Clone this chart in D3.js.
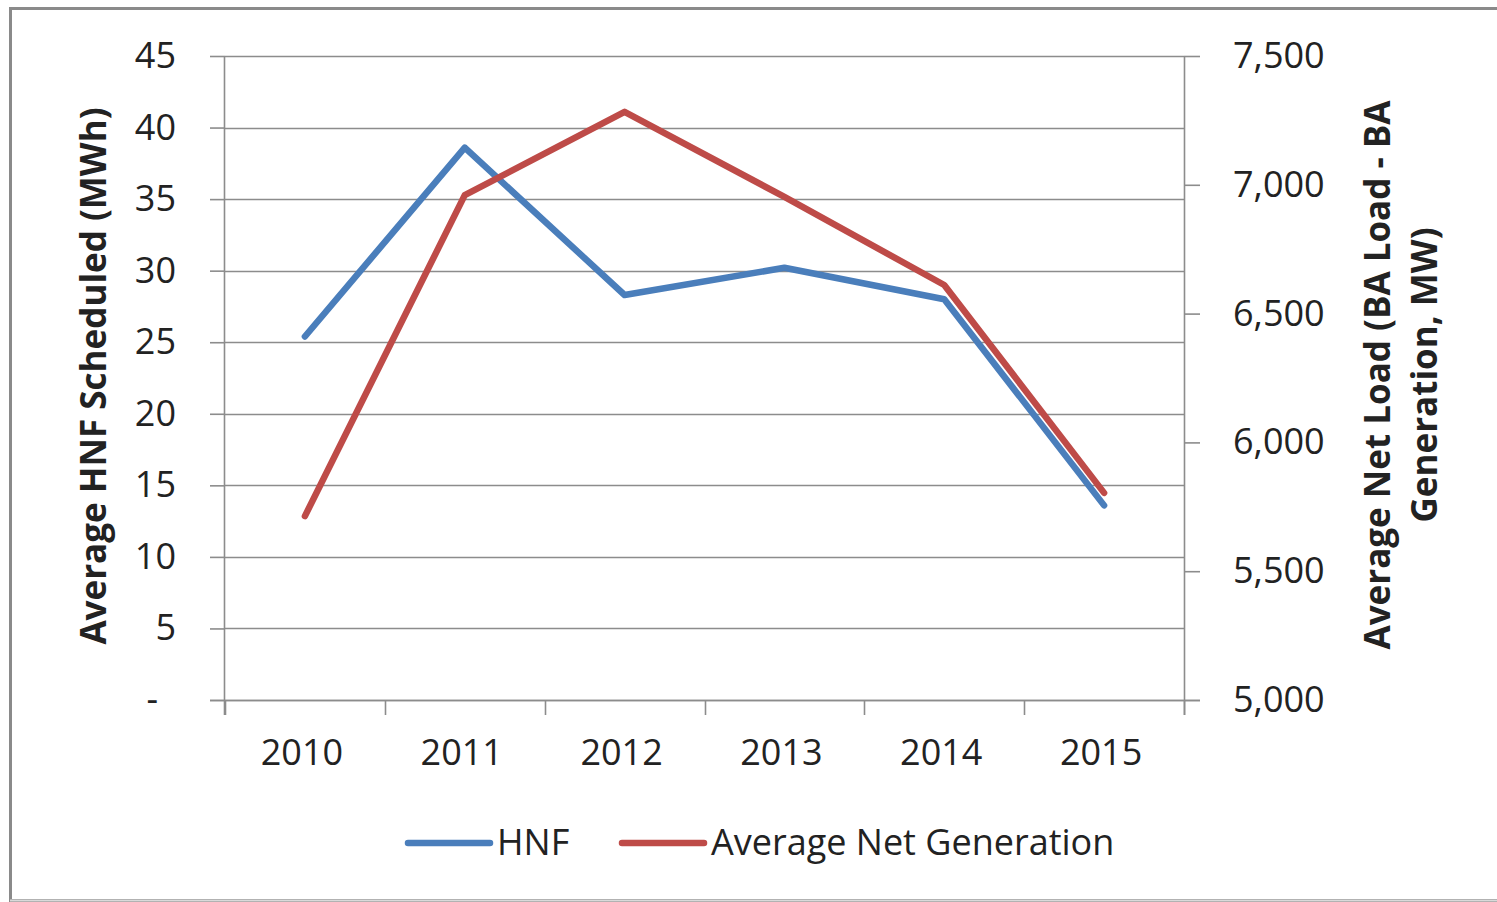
<!DOCTYPE html>
<html>
<head>
<meta charset="utf-8">
<script src="https://cdn.jsdelivr.net/npm/d3@7"></script>
<style>
	body { margin: 0; background: #fff; }
	text { font-family: "Open Sans", sans-serif; fill: #222; }
</style>
</head>
<body>
<div id="containerChart"></div>
<script>
// data
var years = ["2010", "2011", "2012", "2013", "2014", "2015"];
var hnf = [25.4, 38.6, 28.3, 30.2, 28.0, 13.6];
var netGen = [5714, 6960, 7283, 6953, 6611, 5804];
var leftTicks = [0, 5, 10, 15, 20, 25, 30, 35, 40, 45];
var rightTicks = [5000, 5500, 6000, 6500, 7000, 7500];
var seriesNames = ["HNF", "Average Net Generation"];
var seriesColors = ["#4A7EBB", "#BE4B48"];

var width = 1497, height = 902;
var plot = { left: 225, right: 1184, top: 56, bottom: 700 };

var svg = d3.select("#containerChart")
	.append("svg")
	.attr("width", width)
	.attr("height", height);

// outer frame
svg.append("rect")
	.attr("x", 10.5).attr("y", 8.5)
	.attr("width", width + 20).attr("height", 892)
	.attr("fill", "#fff")
	.attr("stroke", "#8a8a8a")
	.attr("stroke-width", 3);
svg.append("line")
	.attr("x1", 10).attr("x2", width)
	.attr("y1", 900.5).attr("y2", 900.5)
	.attr("stroke", "#d9d9d9").attr("stroke-width", 2);

// scales
var x = d3.scaleBand().domain(years).range([plot.left, plot.right]);
var yL = d3.scaleLinear().domain([0, 45]).range([plot.bottom, plot.top]);
var yR = d3.scaleLinear().domain([5000, 7500]).range([plot.bottom, plot.top]);

// horizontal gridlines
svg.append("g")
	.selectAll("line")
	.data(leftTicks)
	.enter().append("line")
	.attr("x1", plot.left).attr("x2", plot.right)
	.attr("y1", function (d) { return Math.round(yL(d)) + 0.5; })
	.attr("y2", function (d) { return Math.round(yL(d)) + 0.5; })
	.attr("stroke", "#8c8c8c")
	.attr("stroke-width", 1.6);

// left axis
var leftAxis = svg.append("g")
	.attr("transform", "translate(" + plot.left + ",0)")
	.call(d3.axisLeft(yL).tickValues(leftTicks).tickSize(15).tickPadding(34)
		.tickFormat(function (d) { return d === 0 ? "-" : d; }));

// right axis
var rightAxis = svg.append("g")
	.attr("transform", "translate(" + plot.right + ",0)")
	.call(d3.axisRight(yR).tickValues(rightTicks).tickSize(16).tickPadding(33)
		.tickFormat(d3.format(",")));

// bottom axis: ticks on band edges, labels centred
var bottomAxis = svg.append("g")
	.attr("transform", "translate(0," + plot.bottom + ")");
bottomAxis.append("line")
	.attr("x1", plot.left - 15).attr("x2", plot.right + 16)
	.attr("y1", 0.5).attr("y2", 0.5);
bottomAxis.selectAll("line.tick")
	.data(years.concat(["end"]))
	.enter().append("line")
	.attr("class", "tick")
	.attr("x1", function (d, i) { return Math.round(plot.left + x.step() * i) + 0.5; })
	.attr("x2", function (d, i) { return Math.round(plot.left + x.step() * i) + 0.5; })
	.attr("y1", 0).attr("y2", 15);
bottomAxis.selectAll("text")
	.data(years)
	.enter().append("text")
	.attr("x", function (d) { return x(d) + x.bandwidth() / 2 - 3; })
	.attr("y", 65)
	.attr("text-anchor", "middle")
	.style("font-size", "36px")
	.text(function (d) { return d; });
bottomAxis.selectAll("line").attr("stroke", "#8c8c8c").attr("stroke-width", 1.6);

[leftAxis, rightAxis].forEach(function (a) {
	a.select(".domain").attr("stroke", "#8c8c8c").attr("stroke-width", 1.6);
	a.selectAll(".tick line").attr("stroke", "#8c8c8c").attr("stroke-width", 1.6);
	a.selectAll(".tick text").style("font-size", "36px").attr("fill", "#222");
});
leftAxis.select(".domain").attr("d", "M-0.5," + (plot.top) + "V" + (plot.bottom + 15));
rightAxis.select(".domain").attr("d", "M0.5," + (plot.top) + "V" + (plot.bottom + 15));
leftAxis.selectAll(".tick text").filter(function (d) { return d === 0; }).attr("dx", -18);

// lines
var lineL = d3.line()
	.x(function (d, i) { return x(years[i]) + x.bandwidth() / 2; })
	.y(function (d) { return yL(d); });
var lineR = d3.line()
	.x(function (d, i) { return x(years[i]) + x.bandwidth() / 2; })
	.y(function (d) { return yR(d); });

svg.append("path")
	.attr("d", lineL(hnf))
	.attr("fill", "none")
	.attr("stroke", seriesColors[0])
	.attr("stroke-width", 6.5)
	.attr("stroke-linejoin", "round")
	.attr("stroke-linecap", "round");
svg.append("path")
	.attr("d", lineR(netGen))
	.attr("fill", "none")
	.attr("stroke", seriesColors[1])
	.attr("stroke-width", 6.5)
	.attr("stroke-linejoin", "round")
	.attr("stroke-linecap", "round");

// axis titles
svg.append("text")
	.attr("transform", "translate(106,376) rotate(-90)")
	.attr("text-anchor", "middle")
	.style("font-size", "35px")
	.style("font-weight", "bold")
	.text("Average HNF Scheduled (MWh)");

var rt = svg.append("text")
	.attr("transform", "translate(1390,375) rotate(-90)")
	.attr("text-anchor", "middle")
	.style("font-size", "35px")
	.style("font-weight", "bold");
rt.append("tspan").attr("x", 0).attr("dy", 0).text("Average Net Load (BA Load - BA");
rt.append("tspan").attr("x", 0).attr("dy", 47).text("Generation, MW)");

// legend
var legendX = [408, 622];
var legend = svg.selectAll("g.legend")
	.data(seriesNames)
	.enter().append("g")
	.attr("class", "legend")
	.attr("transform", function (d, i) { return "translate(" + legendX[i] + ",843)"; });
legend.append("line")
	.attr("x1", 0).attr("x2", 82)
	.attr("y1", 0).attr("y2", 0)
	.attr("stroke", function (d, i) { return seriesColors[i]; })
	.attr("stroke-width", 6.5)
	.attr("stroke-linecap", "round");
legend.append("text")
	.attr("x", 89)
	.attr("y", 12)
	.style("font-size", "36px")
	.text(function (d) { return d; });
</script>
</body>
</html>
